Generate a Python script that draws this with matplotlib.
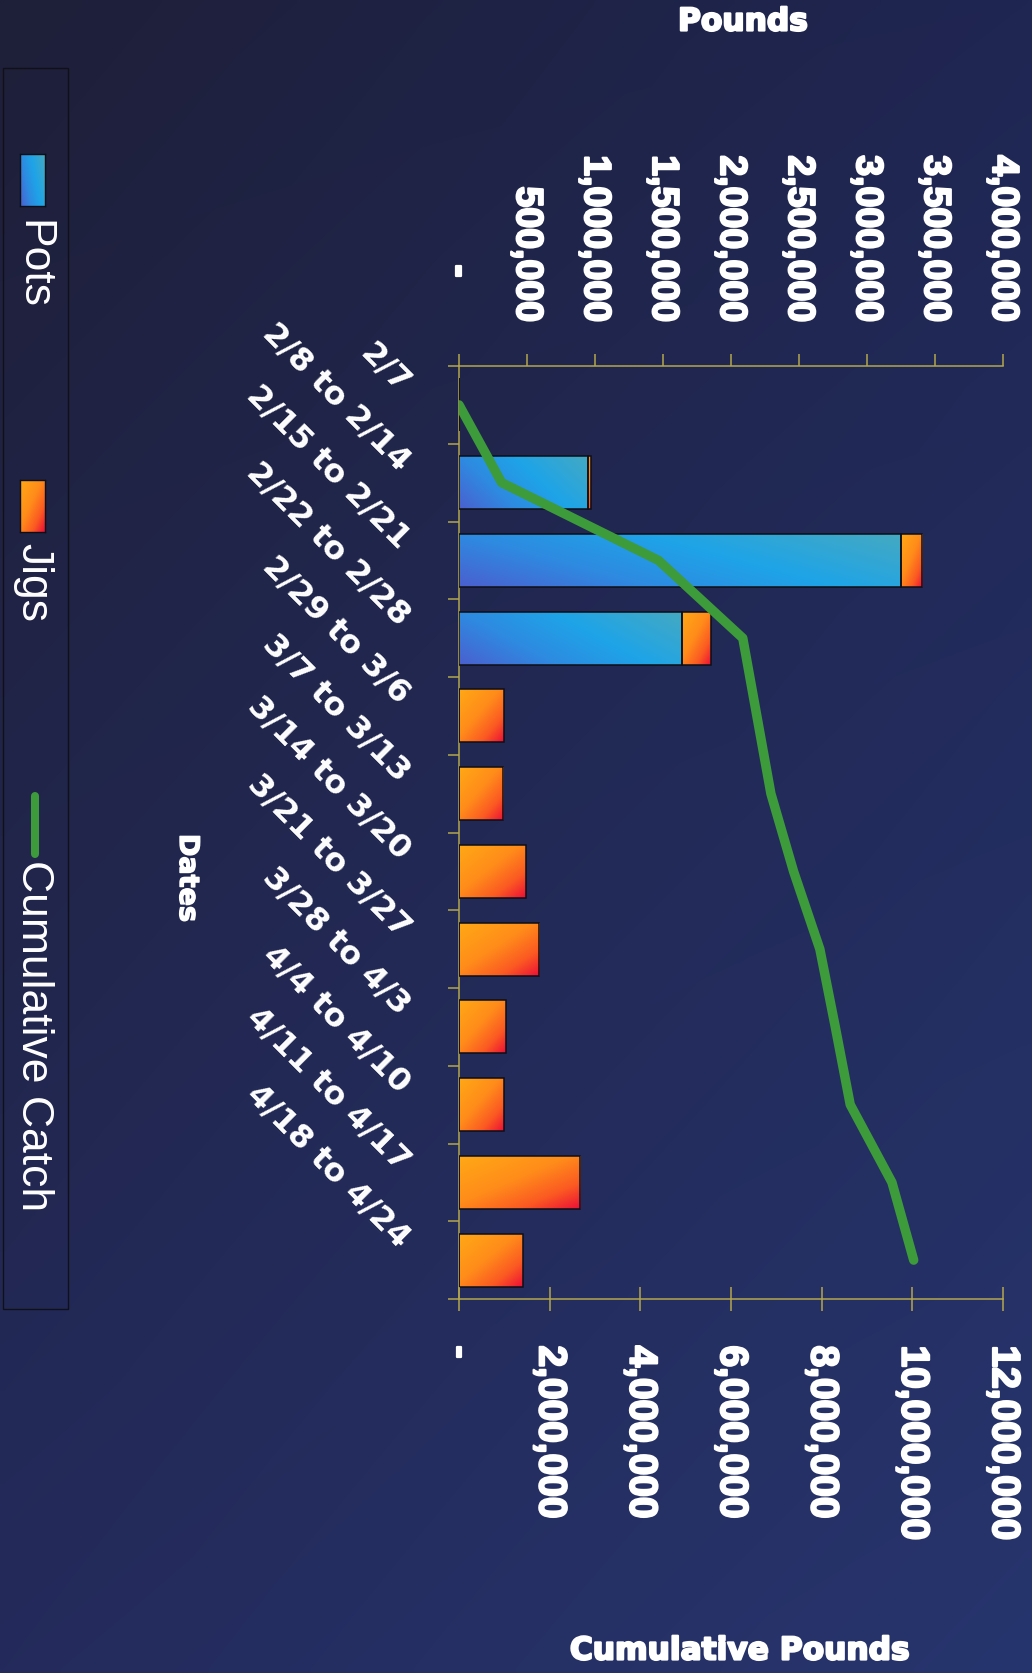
import numpy as np
import matplotlib
matplotlib.use("Agg")
import matplotlib.pyplot as plt
from matplotlib import font_manager as fm
from matplotlib import patheffects as pe
from matplotlib.colors import LinearSegmentedColormap, to_rgb
from matplotlib.patches import Rectangle
from matplotlib.lines import Line2D

# ---------------- data ----------------
categories = ["2/7", "2/8 to 2/14", "2/15 to 2/21", "2/22 to 2/28", "2/29 to 3/6",
              "3/7 to 3/13", "3/14 to 3/20", "3/21 to 3/27", "3/28 to 4/3",
              "4/4 to 4/10", "4/11 to 4/17", "4/18 to 4/24"]
pots = [0, 950000, 3250000, 1640000, 0, 0, 0, 0, 0, 0, 0, 0]
jigs = [0, 20000, 155000, 210000, 330000, 326000, 490000, 590000, 343000, 330000, 890000, 468000]
cumulative = [0, 940000, 4400000, 6260000, 6570000, 6880000, 7380000, 7960000,
              8300000, 8630000, 9550000, 10030000]
pounds_ticks = [0, 500000, 1000000, 1500000, 2000000, 2500000, 3000000, 3500000, 4000000]
pounds_labels = ["-", "500,000", "1,000,000", "1,500,000", "2,000,000", "2,500,000",
                 "3,000,000", "3,500,000", "4,000,000"]
cum_ticks = [0, 2000000, 4000000, 6000000, 8000000, 10000000, 12000000]
cum_labels = ["-", "2,000,000", "4,000,000", "6,000,000", "8,000,000", "10,000,000",
              "12,000,000"]
legend_labels = ["Pots", "Jigs", "Cumulative Catch"]

# ---------------- style ----------------
W, H, DPI = 1032, 1674, 100
KHAKI = "#b4a64c"
GREEN = "#3d9b3b"
EDGE = "#0e0e16"
pots_cmap = LinearSegmentedColormap.from_list(
    "pots", [(0, "#4a60cf"), (0.3, "#2e8ae0"), (0.6, "#1ea4e8"), (1, "#44a9c2")])
jigs_cmap = LinearSegmentedColormap.from_list(
    "jigs", [(0, "#ffa816"), (0.45, "#ff8c1a"), (0.75, "#fb5a22"), (1, "#ec1136")])


def pick_font(families, weight):
    for f in families:
        try:
            fm.findfont(fm.FontProperties(family=f, weight=weight), fallback_to_default=False)
            return f
        except Exception:
            continue
    return "DejaVu Sans"


VAL_FONT = pick_font(["Liberation Sans", "Arimo", "Roboto", "Noto Sans"], "bold")
LEG_FONT = pick_font(["Liberation Sans", "Arimo", "Roboto", "Noto Sans"], "normal")
CAT_FONT = "DejaVu Sans"
HEAVY = [pe.withStroke(linewidth=1.6, foreground="white")]


def grad(kind, nu=80, nv=40):
    u = np.linspace(0, 1, nu)[None, :]
    v = np.linspace(0, 1, nv)[:, None]
    if kind == "pots":
        t = 0.7 * u + 0.3 * (1 - v)
        return pots_cmap(np.clip(t, 0, 1))
    t = 0.5 * u + 0.5 * v
    return jigs_cmap(np.clip(t, 0, 1))


def fx(x):
    return x / W


def fy(y):
    return 1 - y / H


fig = plt.figure(figsize=(W / DPI, H / DPI), dpi=DPI)

# background gradient
bg = fig.add_axes([0, 0, 1, 1], zorder=-10)
c_tl, c_tr = np.array(to_rgb("#1e1f38")), np.array(to_rgb("#1f2652"))
c_bl, c_br = np.array(to_rgb("#242b5c")), np.array(to_rgb("#27356e"))
gy = np.linspace(0, 1, 200)[:, None, None]
gx = np.linspace(0, 1, 120)[None, :, None]
bgimg = (c_tl * (1 - gx) * (1 - gy) + c_tr * gx * (1 - gy) + c_bl * (1 - gx) * gy + c_br * gx * gy)
bg.imshow(bgimg, aspect="auto", extent=(0, 1, 0, 1), interpolation="bilinear")
bg.set_axis_off()

# main axes
ax = fig.add_axes([fx(459), fy(1300), 544 / W, 933 / H])
ax.set_facecolor("none")
n = len(categories)
y = np.arange(n)

pot_bars = ax.barh(y, pots, height=0.68, color="none", edgecolor=EDGE, linewidth=1.1, zorder=3)
jig_bars = ax.barh(y, jigs, left=pots, height=0.68, color="none", edgecolor=EDGE, linewidth=1.1, zorder=3)
for bars, kind in ((pot_bars, "pots"), (jig_bars, "jigs")):
    for r in bars:
        w = r.get_width()
        if w <= 0:
            continue
        x0, y0, h = r.get_x(), r.get_y(), r.get_height()
        ax.imshow(grad(kind), extent=(x0, x0 + w, y0 + h, y0), aspect="auto",
                  interpolation="bilinear", zorder=2.5)

ax2 = ax.twiny()
ax2.plot(cumulative, y, color=GREEN, lw=6.8, solid_capstyle="round",
         solid_joinstyle="round", zorder=5)

ax.set_xlim(0, 4000000)
ax2.set_xlim(0, 12000000)
ax.set_ylim(n - 0.5, -0.5)

# top value axis
ax.xaxis.tick_top()
ax.set_xticks(pounds_ticks, [""] + pounds_labels[1:])
ax.tick_params(axis="x", which="major", top=True, bottom=False, labeltop=True,
               labelbottom=False, direction="out", length=8.6, width=1.1,
               color=KHAKI, pad=23)
for lab in ax.get_xticklabels():
    lab.set_fontproperties(fm.FontProperties(family=VAL_FONT, weight="bold", size=27))
    lab.set_rotation(-90)
    lab.set_color("white")
    lab.set_path_effects(HEAVY)
ax.annotate(pounds_labels[0], xy=(pounds_ticks[0], 1), xycoords=("data", "axes fraction"),
            xytext=(0, 95), textcoords="offset pixels", rotation=-90, ha="center",
            va="center", fontproperties=fm.FontProperties(family=VAL_FONT, weight="bold", size=27),
            color="white", annotation_clip=False, path_effects=HEAVY)

# category axis
ax.set_yticks(np.arange(-0.5, n, 1.0))
ax.set_yticklabels([])
ax.tick_params(axis="y", left=True, right=False, direction="out", length=8,
               width=1.1, color=KHAKI)
for i, c in enumerate(categories):
    ax.annotate(c, xy=(0, y[i]), xycoords=("axes fraction", "data"), xytext=(-54, 18),
                textcoords="offset pixels", rotation=-45, rotation_mode="anchor",
                ha="right", va="center", fontsize=23, fontweight="bold",
                fontfamily=CAT_FONT, color="white", annotation_clip=False)

for s in ("bottom", "right"):
    ax.spines[s].set_visible(False)
for s in ("top", "left"):
    ax.spines[s].set_color(KHAKI)
    ax.spines[s].set_linewidth(1.1)

# bottom cumulative axis
ax2.xaxis.tick_bottom()
ax2.set_xticks(cum_ticks, cum_labels)
ax2.tick_params(axis="x", bottom=True, top=False, labelbottom=True, labeltop=False,
                direction="inout", length=17, width=1.1, color=KHAKI, pad=25)
for lab in ax2.get_xticklabels():
    lab.set_fontproperties(fm.FontProperties(family=VAL_FONT, weight="bold", size=28))
    lab.set_rotation(-90)
    lab.set_color("white")
    lab.set_path_effects(HEAVY)
for s in ("top", "left", "right"):
    ax2.spines[s].set_visible(False)
ax2.spines["bottom"].set_color(KHAKI)
ax2.spines["bottom"].set_linewidth(1.1)

# axis titles
fig.text(fx(743), fy(23), "Pounds", ha="center", va="center", fontsize=22.5,
         fontweight="bold", fontfamily=CAT_FONT, color="white", path_effects=HEAVY)
fig.text(fx(740), fy(1652), "Cumulative Pounds", ha="center", va="center", fontsize=22.5,
         fontweight="bold", fontfamily=CAT_FONT, color="white", path_effects=HEAVY)
fig.text(fx(187), fy(879), "Dates", ha="center", va="center", rotation=-90,
         fontsize=19.5, fontweight="bold", fontfamily=CAT_FONT, color="white",
         path_effects=[pe.withStroke(linewidth=1.0, foreground="white")])

# legend (drawn rotated, like the rest of the chart)
fig.add_artist(Rectangle((fx(3), fy(1310)), 65 / W, (1310 - 69) / H, transform=fig.transFigure,
                         facecolor="none", edgecolor="#101018", linewidth=1.0, zorder=1))
for (top, bottom), kind in (((155, 207), "pots"), ((481, 533), "jigs")):
    lax = fig.add_axes([fx(20), fy(bottom), 25 / W, (bottom - top) / H], zorder=2)
    lax.imshow(grad(kind, 20, 40), aspect="auto", interpolation="bilinear")
    lax.set_xticks([])
    lax.set_yticks([])
    for s in lax.spines.values():
        s.set_color(EDGE)
        s.set_linewidth(1.0)
fig.add_artist(Line2D([fx(35), fx(35)], [fy(797), fy(855)], transform=fig.transFigure,
                      color=GREEN, lw=5.8, solid_capstyle="round"))
for lab, top in zip(legend_labels, (220, 543, 860)):
    fig.text(fx(33), fy(top), lab, rotation=-90, ha="center", va="top", fontsize=32,
             fontfamily=LEG_FONT, color="white")

fig.savefig("out.png", dpi=DPI)
